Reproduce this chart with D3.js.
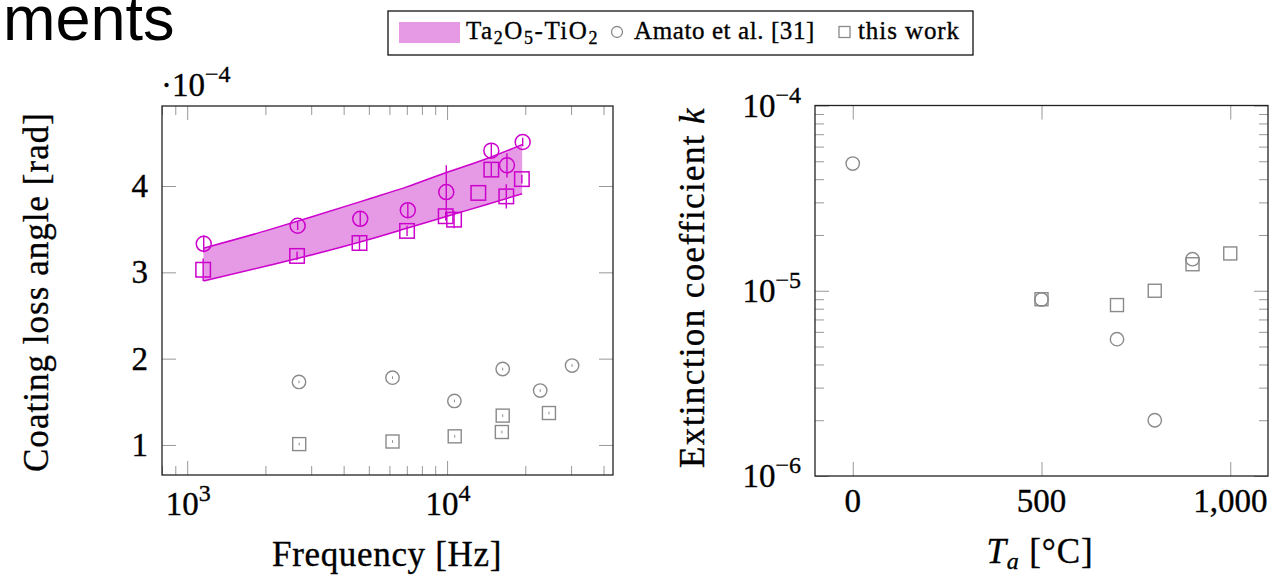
<!DOCTYPE html>
<html>
<head>
<meta charset="utf-8">
<script src="https://cdn.jsdelivr.net/npm/d3@7"></script>
<style>
  body { margin: 0; background: #fff; }
  svg { display: block; }
  text { font-family: "Liberation Serif", "Times New Roman", serif; fill: #000; stroke: #000; stroke-width: 0.35px; }
</style>
</head>
<body>
<div class="chart"></div>
<script>
// left panel: coating loss angle (x 1e-4 rad) vs frequency
const bandFreq = [1155, 2000, 3000, 5000, 7000, 10000, 14000, 19450];
const bandUpper = [3.28, 3.48, 3.64, 3.85, 3.99, 4.16, 4.31, 4.48];
const bandLower = [2.90, 3.07, 3.20, 3.38, 3.51, 3.65, 3.78, 3.91];

const tiCircleFreq = [1158, 2661, 4634, 7063, 9930, 14800, 17000, 19540];
const tiCircleLoss = [3.33, 3.54, 3.62, 3.72, 3.93, 4.41, 4.24, 4.51];
const tiCircleErr = [0.10, 0.05, 0.08, 0.08, 0.31, 0.08, 0.14, 0.05];

const tiSquareFreq = [1152, 2647, 4603, 7015, 9880, 10640, 13190, 14800, 16900, 19400];
const tiSquareLoss = [3.03, 3.19, 3.34, 3.48, 3.65, 3.61, 3.92, 4.19, 3.88, 4.08];
const tiSquareErr = [0.13, 0.05, 0.08, 0.06, 0.05, 0.10, 0.0, 0.08, 0.14, 0.05];

const amatoFreq = [2693, 6166, 10670, 16370, 22820, 30270];
const amatoLoss = [1.73, 1.78, 1.51, 1.88, 1.63, 1.92];
const workFreq = [2698, 6166, 10700, 16370, 16250, 24660];
const workLoss = [1.01, 1.04, 1.10, 1.34, 1.15, 1.37];
const smallErr = [0.015, 0.015, 0.015, 0.015, 0.015, 0.015];

// right panel: extinction coefficient vs annealing temperature
const amatoTemp = [0, 500, 700, 800, 900];
const amatoK = [4.86e-5, 8.97e-6, 5.48e-6, 2.0e-6, 1.48e-5];
const workTemp = [500, 700, 800, 900, 1000];
const workK = [9.0e-6, 8.37e-6, 1.0e-5, 1.39e-5, 1.59e-5];

const lossTicks = [1, 2, 3, 4];
const freqTicks = [1e3, 1e4];
const tempTicks = [0, 500, 1000];
const kTicks = [1e-6, 1e-5, 1e-4];

const magenta = '#cc00cc';
const bandFill = '#e69ae6';
const gray = '#8a8a8a';
const tickGray = '#999';

const svg = d3.select('.chart').append('svg')
  .attr('width', 1272)
  .attr('height', 576);

// fit a text to a measured width with letter spacing
function fit(sel, width) {
  const n = sel.text().length;
  const w = sel.node().getComputedTextLength();
  sel.attr('letter-spacing', (width - w) / n);
  return sel;
}

function tickLines(g, axisFn, scale, values, size, translate) {
  g.append('g')
    .attr('transform', translate)
    .call(axisFn(scale).tickValues(values).tickSize(size).tickSizeOuter(0).tickFormat(''))
    .call(s => s.select('.domain').remove())
    .call(s => s.selectAll('line').attr('stroke', tickGray).attr('stroke-width', 1));
}

function power(g, x, y, exp, anchor) {
  const t = g.append('text')
    .attr('x', x).attr('y', y)
    .attr('text-anchor', anchor)
    .style('font-size', '33px');
  t.append('tspan').text('10');
  t.append('tspan').attr('dy', -14).style('font-size', '24px').text(exp);
  return t;
}

svg.append('text')
  .attr('x', 3).attr('y', 40)
  .style('font-family', '"Liberation Sans", Arial, sans-serif')
  .style('font-size', '63px')
  .style('stroke', 'none')
  .text('ments');

// ---------- left panel ----------
const x1 = d3.scaleLog().domain([800, 43500]).range([162, 613]);
const y1 = d3.scaleLinear().domain([0.652, 4.927]).range([475, 106]);
const left = svg.append('g');

const freqMinor = x1.ticks().filter(v => !freqTicks.includes(v));
tickLines(left, d3.axisBottom, x1, freqMinor, -9, 'translate(0,475)');
tickLines(left, d3.axisBottom, x1, freqTicks, -14, 'translate(0,475)');
tickLines(left, d3.axisTop, x1, freqMinor, -9, 'translate(0,106)');
tickLines(left, d3.axisTop, x1, freqTicks, -14, 'translate(0,106)');
tickLines(left, d3.axisLeft, y1, lossTicks, -14, 'translate(162,0)');
tickLines(left, d3.axisRight, y1, lossTicks, -14, 'translate(613,0)');

const band = bandFreq.map((f, i) => ({ f, lo: bandLower[i], hi: bandUpper[i] }));
left.append('path')
  .datum(band)
  .attr('fill', bandFill)
  .attr('d', d3.area().x(d => x1(d.f)).y0(d => y1(d.lo)).y1(d => y1(d.hi)).curve(d3.curveMonotoneX));
['lo', 'hi'].forEach(k => {
  left.append('path')
    .datum(band)
    .attr('fill', 'none')
    .attr('stroke', magenta)
    .attr('stroke-width', 1.5)
    .attr('d', d3.line().x(d => x1(d.f)).y(d => y1(d[k])).curve(d3.curveMonotoneX));
});

function errBars(g, xs, ys, es, color, w) {
  g.append('g').selectAll('line')
    .data(d3.zip(xs, ys, es).filter(d => d[2] > 0))
    .enter()
    .append('line')
    .attr('x1', d => x1(d[0])).attr('x2', d => x1(d[0]))
    .attr('y1', d => y1(d[1] - d[2])).attr('y2', d => y1(d[1] + d[2]))
    .attr('stroke', color)
    .attr('stroke-width', w);
}

function circles(g, xs, ys, xs_, ys_, r, color, w) {
  g.append('g').selectAll('circle')
    .data(d3.zip(xs, ys))
    .enter()
    .append('circle')
    .attr('cx', d => xs_(d[0])).attr('cy', d => ys_(d[1]))
    .attr('r', r)
    .attr('fill', 'none')
    .attr('stroke', color)
    .attr('stroke-width', w);
}

function squares(g, xs, ys, xs_, ys_, s, color, w) {
  g.append('g').selectAll('rect')
    .data(d3.zip(xs, ys))
    .enter()
    .append('rect')
    .attr('x', d => xs_(d[0]) - s / 2).attr('y', d => ys_(d[1]) - s / 2)
    .attr('width', s).attr('height', s)
    .attr('fill', 'none')
    .attr('stroke', color)
    .attr('stroke-width', w);
}

errBars(left, tiCircleFreq, tiCircleLoss, tiCircleErr, magenta, 1.4);
errBars(left, tiSquareFreq, tiSquareLoss, tiSquareErr, magenta, 1.4);
circles(left, tiCircleFreq, tiCircleLoss, x1, y1, 7.5, magenta, 1.5);
squares(left, tiSquareFreq, tiSquareLoss, x1, y1, 14.5, magenta, 1.5);

errBars(left, amatoFreq, amatoLoss, smallErr, gray, 1);
errBars(left, workFreq, workLoss, smallErr, gray, 1);
circles(left, amatoFreq, amatoLoss, x1, y1, 6.7, gray, 1.4);
squares(left, workFreq, workLoss, x1, y1, 13, gray, 1.4);

left.append('rect')
  .attr('x', 162).attr('y', 106).attr('width', 451).attr('height', 369)
  .attr('fill', 'none').attr('stroke', '#222').attr('stroke-width', 1.3);

left.selectAll('.ylab')
  .data(lossTicks)
  .enter()
  .append('text')
  .attr('x', 148)
  .attr('y', d => y1(d) + 11)
  .attr('text-anchor', 'end')
  .style('font-size', '33px')
  .text(d => d);

freqTicks.forEach(v => power(left, x1(v) + 1, 515, String(Math.log10(v)), 'middle'));

const scaleLab = left.append('text').attr('x', 161).attr('y', 96).style('font-size', '33px');
scaleLab.append('tspan').text('\u00b710');
scaleLab.append('tspan').attr('dy', -14).style('font-size', '24px').text('\u22124');

fit(left.append('text')
  .attr('x', 387).attr('y', 566)
  .attr('text-anchor', 'middle')
  .style('font-size', '35px')
  .text('Frequency [Hz]'), 230);

fit(left.append('text')
  .attr('transform', 'translate(48,292) rotate(-90)')
  .attr('text-anchor', 'middle')
  .style('font-size', '35px')
  .text('Coating loss angle [rad]'), 360);

// ---------- right panel ----------
const x2 = d3.scaleLinear().domain([-100, 1100]).range([815, 1268]);
const y2 = d3.scaleLog().domain([1e-6, 1e-4]).range([476, 105.5]);
const right = svg.append('g');

const kMinor = y2.ticks().filter(v => !kTicks.some(t => Math.abs(t - v) / t < 1e-6));
tickLines(right, d3.axisBottom, x2, tempTicks, -14, 'translate(0,476)');
tickLines(right, d3.axisTop, x2, tempTicks, -14, 'translate(0,105.5)');
tickLines(right, d3.axisLeft, y2, kMinor, -9, 'translate(815,0)');
tickLines(right, d3.axisLeft, y2, kTicks, -14, 'translate(815,0)');
tickLines(right, d3.axisRight, y2, kMinor, -9, 'translate(1268,0)');
tickLines(right, d3.axisRight, y2, kTicks, -14, 'translate(1268,0)');

circles(right, amatoTemp, amatoK, x2, y2, 6.7, gray, 1.4);
squares(right, workTemp, workK, x2, y2, 13, gray, 1.4);

right.append('rect')
  .attr('x', 815).attr('y', 105.5).attr('width', 453).attr('height', 370.5)
  .attr('fill', 'none').attr('stroke', '#222').attr('stroke-width', 1.3);

right.selectAll('.xlab')
  .data(tempTicks)
  .enter()
  .append('text')
  .attr('x', d => x2(d))
  .attr('y', 512)
  .attr('text-anchor', 'middle')
  .style('font-size', '33px')
  .text(d => d3.format(',')(d));

kTicks.forEach(v => power(right, 801, y2(v) + 11, '\u2212' + Math.round(-Math.log10(v)), 'end'));

const tLab = right.append('text')
  .attr('x', 1040).attr('y', 563)
  .attr('text-anchor', 'middle')
  .style('font-size', '35px');
tLab.append('tspan').style('font-style', 'italic').text('T');
tLab.append('tspan').attr('dy', 6).style('font-style', 'italic').style('font-size', '24px').text('a');
tLab.append('tspan').attr('dy', -6).text(' [\u00b0C]');
fit(tLab, 107);

const kLab = right.append('text')
  .attr('transform', 'translate(704,287.5) rotate(-90)')
  .attr('text-anchor', 'middle')
  .style('font-size', '35px');
kLab.append('tspan').text('Extinction coefficient ');
kLab.append('tspan').style('font-style', 'italic').text('k');
fit(kLab, 361);

// ---------- legend ----------
const legend = svg.append('g');
legend.append('rect')
  .attr('x', 388).attr('y', 11).attr('width', 585).attr('height', 44)
  .attr('fill', '#fff').attr('stroke', '#111').attr('stroke-width', 1.3);
legend.append('rect')
  .attr('x', 399).attr('y', 22).attr('width', 61).attr('height', 21)
  .attr('fill', bandFill);

const taLab = legend.append('text').attr('x', 466).attr('y', 39).style('font-size', '25px');
[['Ta', 0], ['2', 1], ['O', 0], ['5', 1], ['-TiO', 0], ['2', 1]].forEach(([s, sub], i, arr) => {
  const prevSub = i > 0 ? arr[i - 1][1] : 0;
  taLab.append('tspan')
    .attr('dy', sub ? 5 : (prevSub ? -5 : 0))
    .style('font-size', sub ? '18px' : '25px')
    .text(s);
});
fit(taLab, 133);

legend.append('circle')
  .attr('cx', 617).attr('cy', 32).attr('r', 5.5)
  .attr('fill', 'none').attr('stroke', gray).attr('stroke-width', 1.3);
fit(legend.append('text').attr('x', 634).attr('y', 39).style('font-size', '25px')
  .text('Amato et al. [31]'), 181);

legend.append('rect')
  .attr('x', 839).attr('y', 26.5).attr('width', 11).attr('height', 11)
  .attr('fill', 'none').attr('stroke', gray).attr('stroke-width', 1.3);
fit(legend.append('text').attr('x', 858).attr('y', 39).style('font-size', '25px')
  .text('this work'), 102);
</script>
</body>
</html>
